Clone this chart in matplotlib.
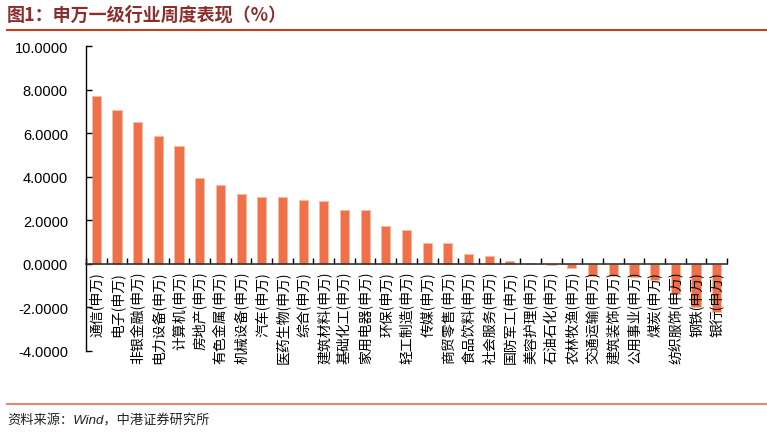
import numpy as np
import matplotlib
matplotlib.use('Agg')
import matplotlib.pyplot as plt
from matplotlib.ticker import FormatStrFormatter, FixedLocator

plt.rcParams['font.family'] = ['Liberation Sans', 'Noto Sans CJK SC', 'DejaVu Sans']

industries = ['通信', '电子', '非银金融', '电力设备', '计算机', '房地产', '有色金属',
              '机械设备', '汽车', '医药生物', '综合', '建筑材料', '基础化工', '家用电器',
              '环保', '轻工制造', '传媒', '商贸零售', '食品饮料', '社会服务', '国防军工',
              '美容护理', '石油石化', '农林牧渔', '交通运输', '建筑装饰', '公用事业',
              '煤炭', '纺织服饰', '钢铁', '银行']
weekly_pct = [7.69, 7.05, 6.51, 5.86, 5.40, 3.95, 3.63, 3.22, 3.09, 3.09, 2.91,
              2.89, 2.46, 2.45, 1.72, 1.56, 0.98, 0.95, 0.45, 0.37, 0.13, 0.06,
              -0.04, -0.17, -0.55, -0.57, -0.60, -0.72, -1.40, -2.00, -2.20]
labels = [s + '(申万)' for s in industries]
yticks = [-4, -2, 0, 2, 4, 6, 8, 10]

W, H = 767, 435
fig = plt.figure(figsize=(W / 100, H / 100), dpi=100)
ax = fig.add_axes([86 / W, 1 - 352 / H, (727 - 86) / W, (352 - 47) / H])

x = np.arange(len(weekly_pct))
ax.bar(x, weekly_pct, width=0.44, color='#EF7049', edgecolor='#F7BCA4',
       linewidth=0.6, zorder=1)

ax.set_xlim(-0.5, len(weekly_pct) - 0.5)
ax.set_ylim(-4, 10)
ax.set_yticks(yticks)
ax.yaxis.set_major_formatter(FormatStrFormatter('%.4f'))

ax.spines['top'].set_visible(False)
ax.spines['right'].set_visible(False)
ax.spines['bottom'].set_position(('data', 0))
ax.spines['bottom'].set_color('#333333')
ax.spines['bottom'].set_linewidth(1.2)
ax.spines['left'].set_linewidth(1.0)

ax.set_xticks(x)
ax.set_xticklabels(labels, fontsize=10, family=['Noto Sans CJK SC'])
ax.xaxis.set_minor_locator(FixedLocator(np.arange(len(weekly_pct) + 1) - 0.5))
ax.tick_params(axis='x', which='major', length=0, pad=5, labelrotation=90)
ax.tick_params(axis='x', which='minor', direction='in', length=4, width=1)
ax.tick_params(axis='y', direction='in', length=4, width=1, pad=13, labelsize=10.5)

# title and lines
fig.text(7 / W, 1 - 15 / H, '图1：申万一级行业周度表现（%）', fontsize=13,
         fontweight='bold', color='#8B2E2E', va='center', ha='left',
         family=['Noto Sans CJK SC'])
fig.add_artist(plt.Line2D([7 / W, 1], [1 - 30.5 / H] * 2, color='#C0411E', lw=1.5))
fig.add_artist(plt.Line2D([7 / W, 1], [1 - 405 / H] * 2, color='#DC8A72', lw=1.5))
fig.text(7 / W, 1 - 421 / H, '资料来源：Wind，中港证券研究所', fontsize=9.5,
         style='italic', color='#222222', va='center', ha='left')

fig.savefig('out.png', dpi=100)
